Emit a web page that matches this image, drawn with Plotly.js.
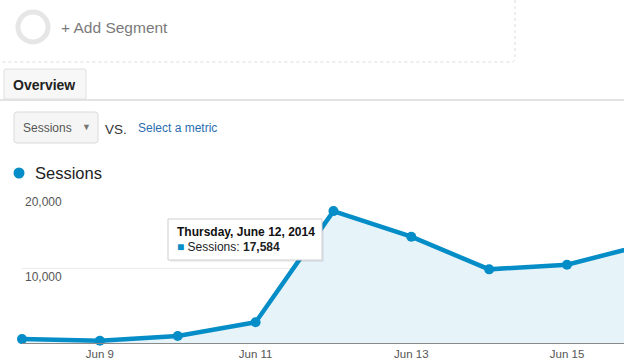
<!DOCTYPE html>
<html>
<head>
<meta charset="utf-8">
<script src="https://cdn.plot.ly/plotly-3.0.1.min.js"></script>
<style>
html,body{margin:0;padding:0;background:#fff;}
#chart{width:624px;height:364px;}
</style>
</head>
<body>
<div id="chart"></div>
<script>
// ---- data ----
const dates = ['2014-06-08','2014-06-09','2014-06-10','2014-06-11','2014-06-12','2014-06-13','2014-06-14','2014-06-15','2014-06-16'];
const sessions = [520, 300, 930, 2760, 17584, 14170, 9820, 10440, 13100];
const xTickVals = ['2014-06-09','2014-06-11','2014-06-13','2014-06-15'];
const xTickText = ['Jun 9','Jun 11','Jun 13','Jun 15'];
const yTickVals = [10000, 20000];
const yTickText = ['10,000','20,000'];
const metricName = 'Sessions';
const tooltipDate = 'Thursday, June 12, 2014';
const tooltipValue = '17,584';

// ---- layout helpers (pixel -> paper) ----
const W = 624, H = 364;
const mL = 22, mR = 0, mT = 193, mB = 21;
const pw = W - mL - mR, ph = H - mT - mB;
const px = x => (x - mL) / pw;
const py = y => (H - mB - y) / ph;
const FONT = 'Liberation Sans, Arial, sans-serif';
const BLUE = '#058dc7';

const trace = {
  x: dates, y: sessions, type: 'scatter', mode: 'lines+markers',
  line: {color: BLUE, width: 4.5},
  marker: {color: BLUE, size: 10},
  fill: 'tozeroy', fillcolor: '#e6f3f9',
  cliponaxis: false, hoverinfo: 'skip'
};

function rr(x0,y0,x1,y1,r){
  return `M${px(x0+r)},${py(y0)} L${px(x1-r)},${py(y0)} Q${px(x1)},${py(y0)} ${px(x1)},${py(y0+r)} L${px(x1)},${py(y1-r)} Q${px(x1)},${py(y1)} ${px(x1-r)},${py(y1)} L${px(x0+r)},${py(y1)} Q${px(x0)},${py(y1)} ${px(x0)},${py(y1-r)} L${px(x0)},${py(y0+r)} Q${px(x0)},${py(y0)} ${px(x0+r)},${py(y0)} Z`;
}

const shapes = [
  // segment box dotted border
  {type:'path', xref:'paper', yref:'paper',
   path:`M${px(515)},${py(0)} L${px(515)},${py(58)} Q${px(515)},${py(62)} ${px(511)},${py(62)} L${px(-2)},${py(62)}`,
   line:{color:'#dcdcdc', width:1, dash:'dot'}},
  // segment circle
  {type:'circle', xref:'paper', yref:'paper', x0:px(18), x1:px(48), y0:py(12), y1:py(42),
   line:{color:'#e6e6e6', width:5}},
  // tab baseline
  {type:'line', xref:'paper', yref:'paper', x0:px(0), x1:px(624), y0:py(100), y1:py(100),
   line:{color:'#e3e3e3', width:2}},
  // tab
  {type:'path', xref:'paper', yref:'paper',
   path:`M${px(4)},${py(99)} L${px(4)},${py(71)} Q${px(4)},${py(69)} ${px(6)},${py(69)} L${px(84)},${py(69)} Q${px(86)},${py(69)} ${px(86)},${py(71)} L${px(86)},${py(99)} Z`,
   fillcolor:'#f7f7f7', line:{color:'#e0e0e0', width:1}},
  // dropdown
  {type:'path', xref:'paper', yref:'paper', path: rr(14,112,98,143,3),
   fillcolor:'#f5f5f5', line:{color:'#dadada', width:1}},
  // legend dot
  {type:'circle', xref:'paper', yref:'paper', x0:px(13.5), x1:px(24.5), y0:py(167.5), y1:py(178.5),
   fillcolor:BLUE, line:{width:0}},
  // tooltip shadow
  {type:'rect', xref:'paper', yref:'paper', x0:px(170), x1:px(324), y0:py(221), y1:py(262),
   fillcolor:'rgba(0,0,0,0.06)', line:{width:0}},
  // tooltip box
  {type:'rect', xref:'paper', yref:'paper', x0:px(168), x1:px(322), y0:py(219), y1:py(260),
   fillcolor:'#ffffff', line:{color:'#cfcfcf', width:1}}
];

function txt(x, y, text, size, color, extra){
  return Object.assign({xref:'paper', yref:'paper', x:px(x), y:py(y), text:text, showarrow:false,
    xanchor:'left', yanchor:'middle', borderpad:0,
    font:{family:FONT, size:size, color:color}}, extra||{});
}

const annotations = [
  txt(60, 27, '+ Add Segment', 15.5, '#7a7a7a'),
  txt(12, 85, '<b>Overview</b>', 14, '#222'),
  txt(22, 128, metricName, 12, '#555'),
  txt(81, 127, '▼', 9, '#777'),
  txt(104, 129, 'VS.', 13.5, '#333'),
  txt(137, 128, 'Select a metric', 12, '#2a6eb0'),
  txt(34, 173, metricName, 16.5, '#222'),
  txt(176, 232, '<b>' + tooltipDate + '</b>', 12, '#111'),
  txt(176, 247, '<span style="color:' + BLUE + '">■</span> ' + metricName + ': <b>' + tooltipValue + '</b>', 12, '#222')
];

const layout = {
  width: W, height: H,
  margin: {l: mL, r: mR, t: mT, b: mB, pad: 0},
  paper_bgcolor: '#ffffff', plot_bgcolor: '#ffffff',
  showlegend: false,
  font: {family: FONT, size: 11, color: '#555'},
  xaxis: {
    type: 'date', range: ['2014-06-08', '2014-06-15 17:34'],
    tickmode: 'array', tickvals: xTickVals, ticktext: xTickText,
    showgrid: false, zeroline: false,
    showline: true, linecolor: '#8a8a8a', linewidth: 1,
    ticks: '', ticklen: 0, tickfont: {family: FONT, size: 11.5, color: '#555'},
    fixedrange: true
  },
  yaxis: {
    range: [0, 20000],
    tickmode: 'array', tickvals: yTickVals, ticktext: yTickText,
    ticklabelposition: 'inside bottom',
    showgrid: true, gridcolor: '#ececec', gridwidth: 1,
    zeroline: false, showline: false, ticks: '',
    tickfont: {family: FONT, size: 12, color: '#555'},
    fixedrange: true
  },
  shapes: shapes,
  annotations: annotations
};

Plotly.newPlot('chart', [trace], layout, {displayModeBar: false, staticPlot: true});
</script>
</body>
</html>
